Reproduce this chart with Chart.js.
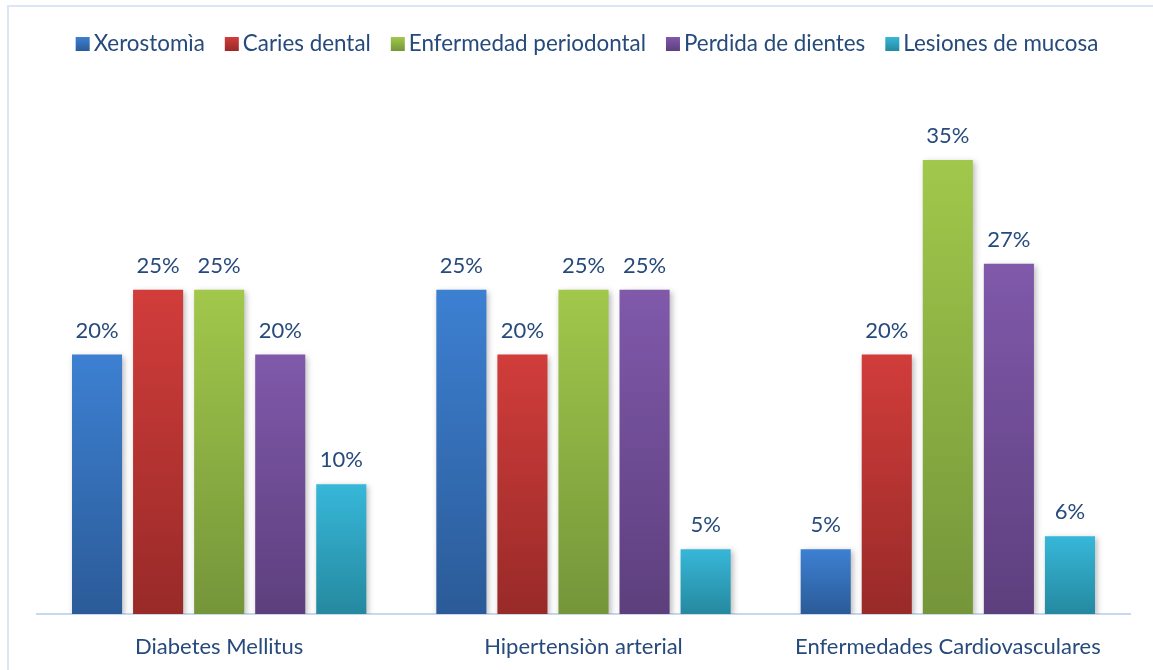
<!DOCTYPE html>
<html>
<head>
<meta charset="utf-8">
<script src="https://cdn.jsdelivr.net/npm/chart.js@4.4.1/dist/chart.umd.min.js"></script>
<style>
  html, body { margin: 0; padding: 0; background: #fff; }
  #wrap { position: relative; width: 1153px; height: 670px; }
  #frame {
    position: absolute; left: 7px; top: 5px; width: 1200px; height: 700px;
    border-left: 2px solid #dce6f2; border-top: 2px solid #dce6f2;
    pointer-events: none;
  }
</style>
</head>
<body>
<div id="wrap">
  <canvas id="myChart" width="1153" height="670"></canvas>
  <div id="frame"></div>
</div>
<script>
const categories = ['Diabetes Mellitus', 'Hipertensiòn arterial', 'Enfermedades Cardiovasculares'];
const seriesNames = ['Xerostomìa', 'Caries dental', 'Enfermedad periodontal', 'Perdida de dientes', 'Lesiones de mucosa'];
const xerostomia = [20, 25, 5];
const caries = [25, 20, 20];
const periodontal = [25, 25, 35];
const perdida = [20, 25, 27];
const lesiones = [10, 5, 6];

const seriesValues = [xerostomia, caries, periodontal, perdida, lesiones];
// light (top) / dark (bottom) colours for each series
const topColors = ['#3d80d2', '#d13d3b', '#a1c84b', '#8059ab', '#37b7d9'];
const bottomColors = ['#2b5b98', '#982a28', '#75953a', '#5d3f7d', '#25899f'];

const textColor = '#264a7c';
const fontFamily = 'Lato, "Open Sans", sans-serif';

function barGradient(i) {
  return function (context) {
    const chart = context.chart;
    const y = chart.scales && chart.scales.y;
    if (!chart.chartArea || !y || context.parsed == null || context.type !== 'data') {
      return topColors[i];
    }
    const top = y.getPixelForValue(context.parsed.y);
    const bottom = y.getPixelForValue(0);
    if (!isFinite(top) || !isFinite(bottom) || top === bottom) return topColors[i];
    const g = chart.ctx.createLinearGradient(0, top, 0, bottom);
    g.addColorStop(0, topColors[i]);
    g.addColorStop(1, bottomColors[i]);
    return g;
  };
}

const barShadow = {
  id: 'barShadow',
  beforeDatasetDraw(chart) {
    const ctx = chart.ctx;
    ctx.save();
    ctx.shadowColor = 'rgba(0,0,0,0.28)';
    ctx.shadowBlur = 6;
    ctx.shadowOffsetX = 2;
    ctx.shadowOffsetY = 2;
  },
  afterDatasetDraw(chart) {
    chart.ctx.restore();
  }
};

const valueLabels = {
  id: 'valueLabels',
  afterDatasetsDraw(chart) {
    const ctx = chart.ctx;
    ctx.save();
    ctx.font = '22px ' + fontFamily;
    ctx.fillStyle = textColor;
    ctx.textAlign = 'center';
    ctx.textBaseline = 'middle';
    chart.data.datasets.forEach((ds, i) => {
      chart.getDatasetMeta(i).data.forEach((bar, j) => {
        ctx.fillText(ds.data[j] + '%', bar.x, bar.y - 24);
      });
    });
    ctx.restore();
  }
};

// legend drawn by hand: tighter box/text gap than the built-in one
const topLegend = {
  id: 'topLegend',
  afterDraw(chart) {
    const ctx = chart.ctx;
    const box = 14, gap = 4, spacing = 20, cy = 44, centerX = 587;
    ctx.save();
    ctx.font = '22.4px ' + fontFamily;
    ctx.textBaseline = 'middle';
    const items = chart.data.datasets.map((ds, i) => ({ text: ds.label, i: i, w: ctx.measureText(ds.label).width }));
    const total = items.reduce((s, it) => s + box + gap + it.w, 0) + spacing * (items.length - 1);
    let x = centerX - total / 2;
    items.forEach(it => {
      const g = ctx.createLinearGradient(0, cy - box / 2, 0, cy + box / 2);
      g.addColorStop(0, topColors[it.i]);
      g.addColorStop(1, bottomColors[it.i]);
      ctx.fillStyle = g;
      ctx.fillRect(x, cy - box / 2, box, box);
      ctx.fillStyle = textColor;
      ctx.fillText(it.text, x + box + gap, cy);
      x += box + gap + it.w + spacing;
    });
    ctx.restore();
  }
};

new Chart(document.getElementById('myChart'), {
  type: 'bar',
  data: {
    labels: categories,
    datasets: seriesNames.map((name, i) => ({
      label: name,
      data: seriesValues[i],
      backgroundColor: barGradient(i),
      borderWidth: 0,
      categoryPercentage: 0.838,
      barPercentage: 0.82
    }))
  },
  options: {
    responsive: false,
    animation: false,
    layout: { padding: { top: 65, left: 37, right: 23, bottom: 0 } },
    plugins: {
      legend: { display: false },
      tooltip: { enabled: false }
    },
    scales: {
      x: {
        grid: { display: false, drawTicks: false },
        border: { color: '#c8d8ee', width: 2 },
        ticks: { color: textColor, font: { family: fontFamily, size: 22 }, padding: 20 },
        afterFit(scale) { scale.height = 56; }
      },
      y: {
        display: false,
        min: 0,
        max: 42.33
      }
    }
  },
  plugins: [barShadow, valueLabels, topLegend]
});
</script>
</body>
</html>
